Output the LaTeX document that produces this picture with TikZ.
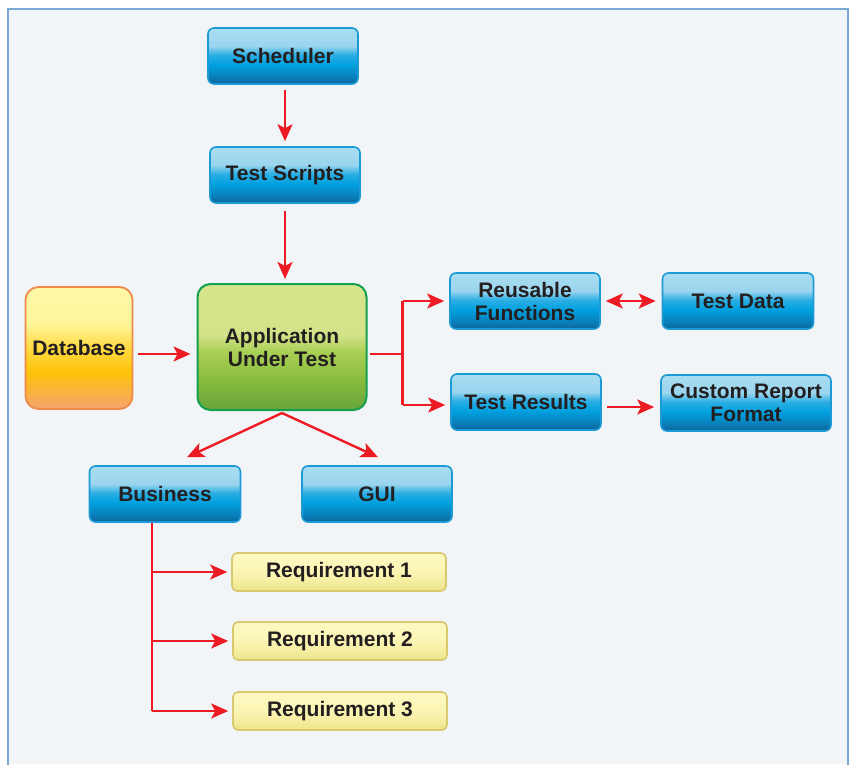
\documentclass[tikz,border=0pt]{standalone}
\usepackage{fontspec}
\setmainfont{Liberation Sans}
\usetikzlibrary{arrows.meta,calc}
\definecolor{bgc}{HTML}{F2F5F7}
\definecolor{framec}{HTML}{7AA7D6}
\definecolor{txt}{HTML}{231F20}
\definecolor{redc}{HTML}{ED1C24}
\definecolor{blueb}{HTML}{1C9AD6}
\definecolor{greenb}{HTML}{14A050}
\definecolor{orangeb}{HTML}{F08A4B}
\definecolor{yellowb}{HTML}{D8C870}
\definecolor{b0}{HTML}{0A659A}
\definecolor{b1}{HTML}{0A7DB8}
\definecolor{b2}{HTML}{00A0DF}
\definecolor{b3}{HTML}{2BAEE3}
\definecolor{b4}{HTML}{9AD5EE}
\definecolor{b5}{HTML}{A9DDF1}
\definecolor{g0}{HTML}{66A33A}
\definecolor{g1}{HTML}{8BBE3F}
\definecolor{g2}{HTML}{A9CF55}
\definecolor{g3}{HTML}{D3E389}
\definecolor{g4}{HTML}{D6E58C}
\definecolor{d0}{HTML}{F5A36E}
\definecolor{d1}{HTML}{FFC20A}
\definecolor{d2}{HTML}{FFDA40}
\definecolor{d3}{HTML}{FFF59A}
\definecolor{d4}{HTML}{FFF8A8}
\definecolor{y0}{HTML}{EEE48A}
\definecolor{y1}{HTML}{FBF5B4}
\definecolor{y2}{HTML}{FDF9C2}
\pgfdeclareverticalshading{bshade}{100bp}{color(0bp)=(b0); color(25bp)=(b0); color(31bp)=(b1); color(42bp)=(b2); color(51bp)=(b3); color(59bp)=(b4); color(75bp)=(b5); color(100bp)=(b5)}
\pgfdeclareverticalshading{gshade}{100bp}{color(0bp)=(g0); color(25bp)=(g0); color(38bp)=(g1); color(48bp)=(g2); color(55bp)=(g3); color(75bp)=(g4); color(100bp)=(g4)}
\pgfdeclareverticalshading{dshade}{100bp}{color(0bp)=(d0); color(25bp)=(d0); color(40bp)=(d1); color(50bp)=(d2); color(60bp)=(d3); color(75bp)=(d4); color(100bp)=(d4)}
\pgfdeclareverticalshading{yshade}{100bp}{color(0bp)=(y0); color(25bp)=(y0); color(50bp)=(y1); color(75bp)=(y2); color(100bp)=(y2)}
\tikzset{
  boxbase/.style={inner sep=0pt, align=center, text=txt,
    font=\fontsize{21}{23}\selectfont\bfseries},
  bluebox/.style={boxbase, draw=blueb, line width=1.6pt, rounded corners=6pt,
    shading=bshade, minimum width=150pt, minimum height=56pt},
  greenbox/.style={boxbase, draw=greenb, line width=2pt, rounded corners=13pt,
    shading=gshade},
  dbbox/.style={boxbase, draw=orangeb, line width=1.8pt, rounded corners=13pt,
    shading=dshade},
  reqbox/.style={boxbase, draw=yellowb, line width=1.6pt, rounded corners=5pt,
    shading=yshade, minimum width=214pt, minimum height=38pt},
  redline/.style={draw=redc, line width=2.4pt},
  tipstyle/.style={},
  arr/.style={redline, -{Stealth[length=17pt,width=15pt,inset=4pt]}},
  darr/.style={redline, {Stealth[length=17pt,width=15pt,inset=4pt]}-{Stealth[length=17pt,width=15pt,inset=4pt]}}
}
\begin{document}
\begin{tikzpicture}[x=1pt,y=-1pt]
\useasboundingbox (0,0) rectangle (852,764);
\fill[white] (0,0) rectangle (852,764);
\fill[bgc] (8,9) rectangle (848,764);
\draw[framec, line width=2.5pt] (8,766) -- (8,9) -- (848,9) -- (848,766);

\node[bluebox] (sched) at (283,56) {Scheduler};
\node[bluebox] (ts) at (285,175) {Test Scripts};
\node[greenbox, minimum width=169pt, minimum height=126pt] (app) at (282,347) {Application\\Under Test};
\node[dbbox, minimum width=107pt, minimum height=122pt] (db) at (79,348) {Database};
\node[bluebox] (reuse) at (525,301) {Reusable\\Functions};
\node[bluebox, minimum width=151pt] (tdata) at (738,301) {Test Data};
\node[bluebox] (tres) at (526,402) {Test Results};
\node[bluebox, minimum width=170pt] (crf) at (746,403) {Custom Report\\Format};
\node[bluebox, minimum width=151pt] (bus) at (165,494) {Business};
\node[bluebox] (gui) at (377,494) {GUI};
\node[reqbox] (r1) at (339,572) {Requirement 1};
\node[reqbox] (r2) at (340,641) {Requirement 2};
\node[reqbox] (r3) at (340,711) {Requirement 3};

\draw[arr, shorten <=5pt, shorten >=5pt] ([xshift=2pt]sched.south) -- ([xshift=0pt]ts.north);
\draw[arr, shorten <=7pt, shorten >=4pt] (ts.south) -- (ts.south |- app.north);
\draw[arr, shorten <=5pt, shorten >=6pt] ([yshift=-6pt]db.east) -- ([yshift=-7pt]app.west);

\draw[redline] ([xshift=2pt,yshift=-7pt]app.east) -- ++(33,0) coordinate (fork);
\draw[arr, shorten >=5pt] (fork |- reuse.west) -- (reuse.west);
\draw[redline] (fork |- reuse.west) -- (fork |- tres.west) -- ++(0,3);
\draw[arr, shorten >=5pt] ([yshift=-3pt]fork |- tres.west) -- ([yshift=-3pt]tres.west);

\draw[darr, shorten <=5pt, shorten >=6pt] (reuse.east) -- (tdata.west);
\draw[arr, shorten <=5pt, shorten >=6pt] ([yshift=-5pt]tres.east) -- ([yshift=-5pt]tres.east -| crf.west);

\coordinate (ab) at ([yshift=-2pt]app.south);
\draw[arr] (ab) -- ([xshift=22pt,yshift=8pt]bus.north);
\draw[arr] (ab) -- ([xshift=1pt,yshift=8pt]gui.north);

\coordinate (tk) at ([xshift=-13pt]bus.south);
\draw[redline] (tk) -- (tk |- r3.west);
\draw[arr, shorten >=4pt] (tk |- r1.west) -- (r1.west);
\draw[arr, shorten >=4pt] (tk |- r2.west) -- (r2.west);
\draw[arr, shorten >=4pt] (tk |- r3.west) -- (r3.west);
\end{tikzpicture}
\end{document}
